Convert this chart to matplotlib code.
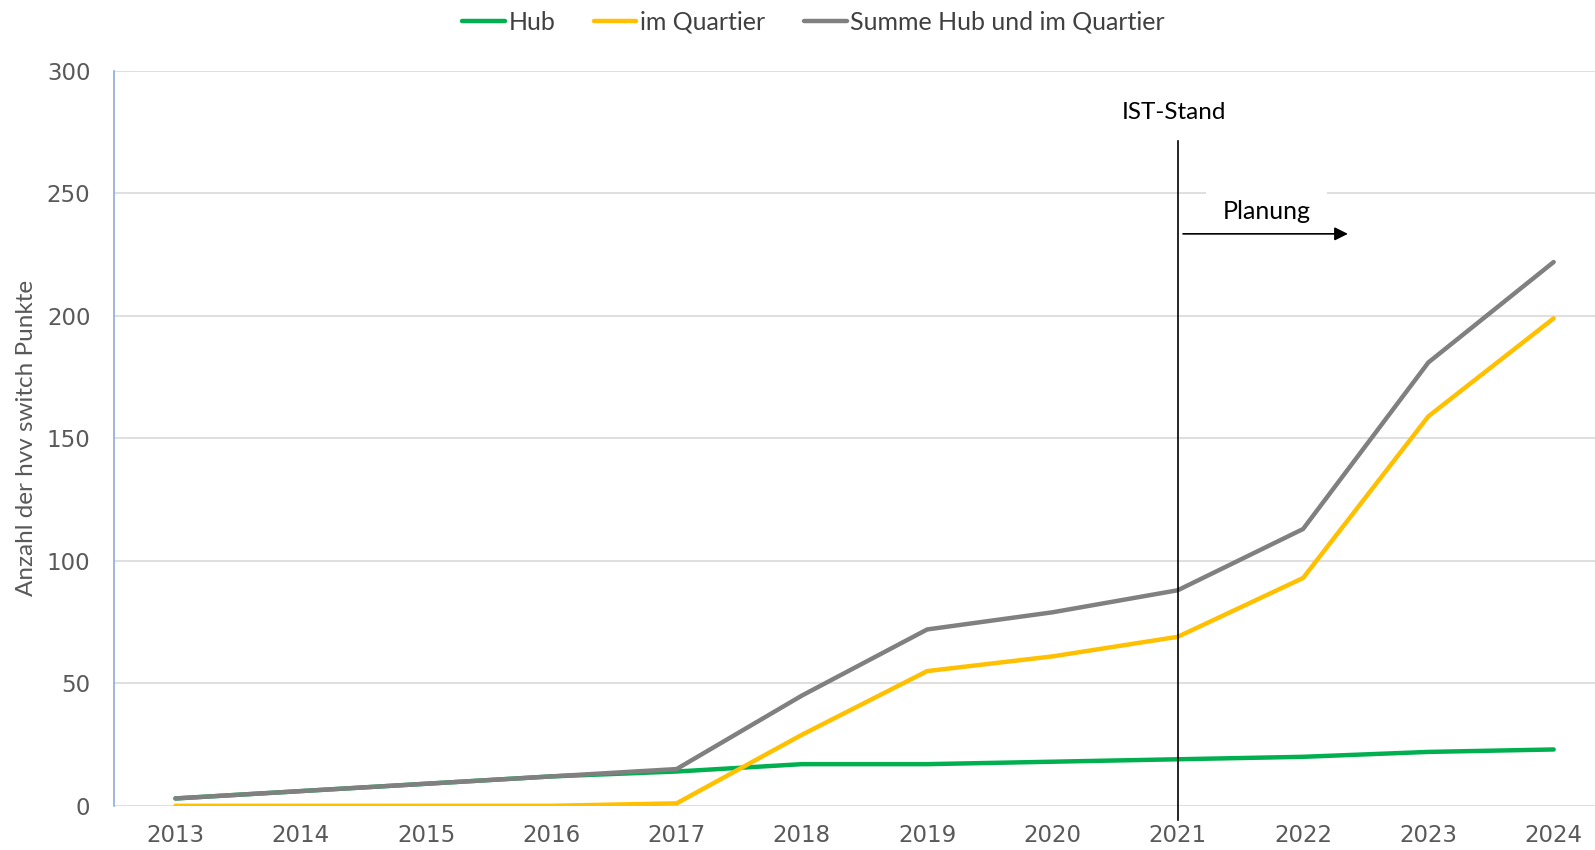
import matplotlib.pyplot as plt

# Daten
years = [2013, 2014, 2015, 2016, 2017, 2018, 2019, 2020, 2021, 2022, 2023, 2024]
hub = [3, 6, 9, 12, 14, 17, 17, 18, 19, 20, 22, 23]
quartier = [0, 0, 0, 0, 1, 29, 55, 61, 69, 93, 159, 199]
summe = [3, 6, 9, 12, 15, 45, 72, 79, 88, 113, 181, 222]
y_ticks = [0, 50, 100, 150, 200, 250, 300]

ist_year = 2021

text_font = ["Lato", "DejaVu Sans"]

fig = plt.figure(figsize=(15.95, 8.5), dpi=100)
ax = fig.add_axes([0.0715, 0.052, 0.9285, 0.8645])

ax.plot(years, hub, color="#00B050", lw=3.2, label="Hub", solid_capstyle="round")
ax.plot(years, quartier, color="#FFC000", lw=3.2, label="im Quartier", solid_capstyle="round")
ax.plot(years, summe, color="#808080", lw=3.2, label="Summe Hub und im Quartier", solid_capstyle="round")

ax.set_xlim(2012.51, 2024.33)
ax.set_ylim(0, 300)
ax.set_yticks(y_ticks)
ax.set_xticks(years)
ax.tick_params(length=0, labelsize=16.5, labelcolor="#595959")
ax.tick_params(axis="x", pad=13)
ax.tick_params(axis="y", pad=17)
ax.grid(axis="y", color="#D9D9D9", lw=1.2)
ax.set_axisbelow(True)
for s in ["top", "right", "bottom"]:
    ax.spines[s].set_visible(False)
ax.spines["left"].set_color("#8FAADC")
ax.spines["left"].set_linewidth(1.2)

ax.set_ylabel("Anzahl der hvv switch Punkte", fontsize=17.5, color="#595959",
              family=text_font)
ax.yaxis.set_label_coords(-0.052, 0.5)

# IST-Stand Linie und Planungspfeil
ax.plot([ist_year, ist_year], [-5.8, 271.5], color="black", lw=1.2, clip_on=False)
ax.text(ist_year - 0.03, 283, "IST-Stand", ha="center", va="center", fontsize=17.5,
        family=text_font, color="black")
ax.text(2021.71, 242.5, "Planung", ha="center", va="center", fontsize=18,
        family=text_font, color="black",
        bbox=dict(facecolor="white", edgecolor="none", pad=12))
ax.annotate("", xy=(2022.38, 233.5), xytext=(ist_year + 0.02, 233.5),
            arrowprops=dict(arrowstyle="-|>", color="black", lw=1.2, mutation_scale=20))

leg = fig.legend(loc="upper center", bbox_to_anchor=(0.51, 1.014), ncol=3, frameon=False,
                 prop={"family": text_font, "size": 18}, handlelength=1.7,
                 handletextpad=0.15, columnspacing=1.55)
for t in leg.get_texts():
    t.set_color("#404040")

fig.savefig("out.png", dpi=100)
